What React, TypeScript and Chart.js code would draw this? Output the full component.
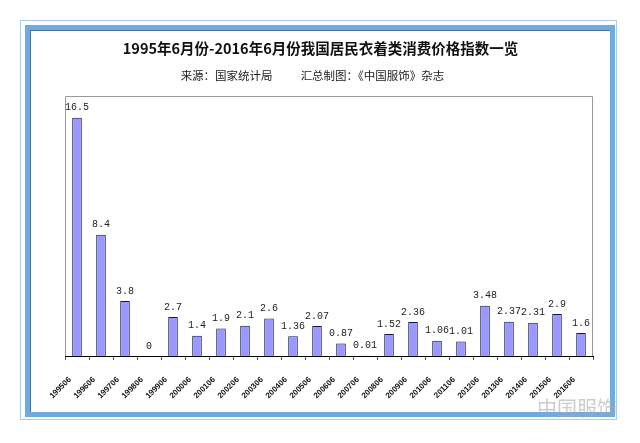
import React, { useEffect, useRef } from "react";
import { Chart, registerables } from "chart.js";

Chart.register(...registerables);

const categories = [
  "199506", "199606", "199706", "199806", "199906", "200006", "200106", "200206",
  "200306", "200406", "200506", "200606", "200706", "200806", "200906", "201006",
  "201106", "201206", "201306", "201406", "201506", "201606",
];
const values = [
  16.5, 8.4, 3.8, 0, 2.7, 1.4, 1.9, 2.1, 2.6, 1.36, 2.07, 0.87, 0.01, 1.52, 2.36,
  1.06, 1.01, 3.48, 2.37, 2.31, 2.9, 1.6,
];
const valueLabels = [
  "16.5", "8.4", "3.8", "0", "2.7", "1.4", "1.9", "2.1", "2.6", "1.36", "2.07",
  "0.87", "0.01", "1.52", "2.36", "1.06", "1.01", "3.48", "2.37", "2.31", "2.9", "1.6",
];
const titleText = "1995年6月份-2016年6月份我国居民衣着类消费价格指数一览";
const subtitleLeft = "来源：国家统计局";
const subtitleRight = "汇总制图：《中国服饰》杂志";
const watermark = "中国服饰";

const plotFrame = {
  id: "plotFrame",
  beforeDatasetsDraw(chart: any) {
    const { ctx, chartArea } = chart;
    ctx.save();
    ctx.strokeStyle = "#9a9a9a";
    ctx.lineWidth = 1;
    ctx.beginPath();
    const l = Math.round(chartArea.left) + 0.5;
    const r = Math.round(chartArea.right) - 0.5;
    const t = Math.round(chartArea.top) + 0.5;
    const b = Math.round(chartArea.bottom);
    ctx.moveTo(l, b);
    ctx.lineTo(l, t);
    ctx.lineTo(r, t);
    ctx.lineTo(r, b);
    ctx.stroke();
    ctx.restore();
  },
};

const barLabels = {
  id: "barLabels",
  afterDatasetsDraw(chart: any) {
    const { ctx } = chart;
    const meta = chart.getDatasetMeta(0);
    ctx.save();
    ctx.font = "10px 'Liberation Mono', monospace";
    ctx.fillStyle = "#222222";
    ctx.textAlign = "center";
    ctx.textBaseline = "middle";
    meta.data.forEach((el: any, i: number) => {
      ctx.fillText(valueLabels[i], el.x, el.y - 10);
    });
    ctx.restore();
  },
};

export default function App() {
  const ref = useRef<HTMLCanvasElement>(null);

  useEffect(() => {
    if (!ref.current) return;
    const chart = new Chart(ref.current, {
      type: "bar",
      data: {
        labels: categories,
        datasets: [
          {
            data: values,
            backgroundColor: "#9999ff",
            borderColor: "#14144a",
            borderWidth: 1,
            categoryPercentage: 1,
            barPercentage: 0.4,
          },
        ],
      },
      options: {
        responsive: false,
        animation: false,
        devicePixelRatio: 1,
        layout: { padding: { left: 65, right: 47, top: 96, bottom: 27 } },
        plugins: {
          legend: { display: false },
          tooltip: { enabled: false },
          title: { display: false },
        },
        scales: {
          x: {
            grid: {
              offset: true,
              drawOnChartArea: false,
              drawTicks: true,
              tickLength: 4,
              color: "#555555",
            },
            border: { display: true, color: "#000000", width: 1 },
            ticks: {
              autoSkip: false,
              minRotation: 45,
              maxRotation: 45,
              padding: 15,
              labelOffset: -7,
              color: "#111111",
              font: { family: "'Liberation Sans', Arial, sans-serif", size: 8, weight: "bold" },
            },
            afterFit(scale: any) {
              scale.height = 60;
            },
          },
          y: {
            display: false,
            min: 0,
            max: 18,
          },
        },
      },
      plugins: [plotFrame, barLabels],
    } as any);
    return () => chart.destroy();
  }, []);

  return (
    <div style={{ position: "absolute", left: 0, top: 0, width: 640, height: 443, background: "#ffffff", overflow: "hidden" }}>
      <div style={{ position: "absolute", left: 20, top: 20, width: 597, height: 400, border: "1px solid #a9cdf0", boxSizing: "border-box" }} />
      <div
        style={{
          position: "absolute",
          left: 25,
          top: 25,
          width: 590,
          height: 392,
          border: "5px solid #6eaae4",
          boxSizing: "border-box",
          boxShadow: "inset 1px 1px 0 #4a6f9a",
        }}
      />
      <canvas ref={ref} width={640} height={443} style={{ position: "absolute", left: 0, top: 0, width: 640, height: 443 }} />
      <div
        style={{
          position: "absolute",
          left: 0,
          top: 38,
          width: 641,
          textAlign: "center",
          fontFamily: "'Noto Sans CJK SC', sans-serif",
          fontWeight: "bold",
          fontSize: 14.5,
          lineHeight: "20px",
          color: "#111111",
          whiteSpace: "nowrap",
        }}
      >
        {titleText}
      </div>
      <div
        style={{
          position: "absolute",
          left: 0,
          top: 67,
          width: 625,
          textAlign: "center",
          fontFamily: "'Noto Sans CJK SC', sans-serif",
          fontSize: 11.5,
          lineHeight: "16px",
          color: "#222222",
          whiteSpace: "nowrap",
        }}
      >
        <span>{subtitleLeft}</span>
        <span style={{ display: "inline-block", width: 28 }} />
        <span>{subtitleRight}</span>
      </div>
      <div
        style={{
          position: "absolute",
          left: 537,
          top: 397,
          fontFamily: "'Noto Sans CJK SC', sans-serif",
          fontSize: 20,
          lineHeight: "22px",
          color: "rgba(170,170,170,0.6)",
          whiteSpace: "nowrap",
        }}
      >
        {watermark}
      </div>
    </div>
  );
}
